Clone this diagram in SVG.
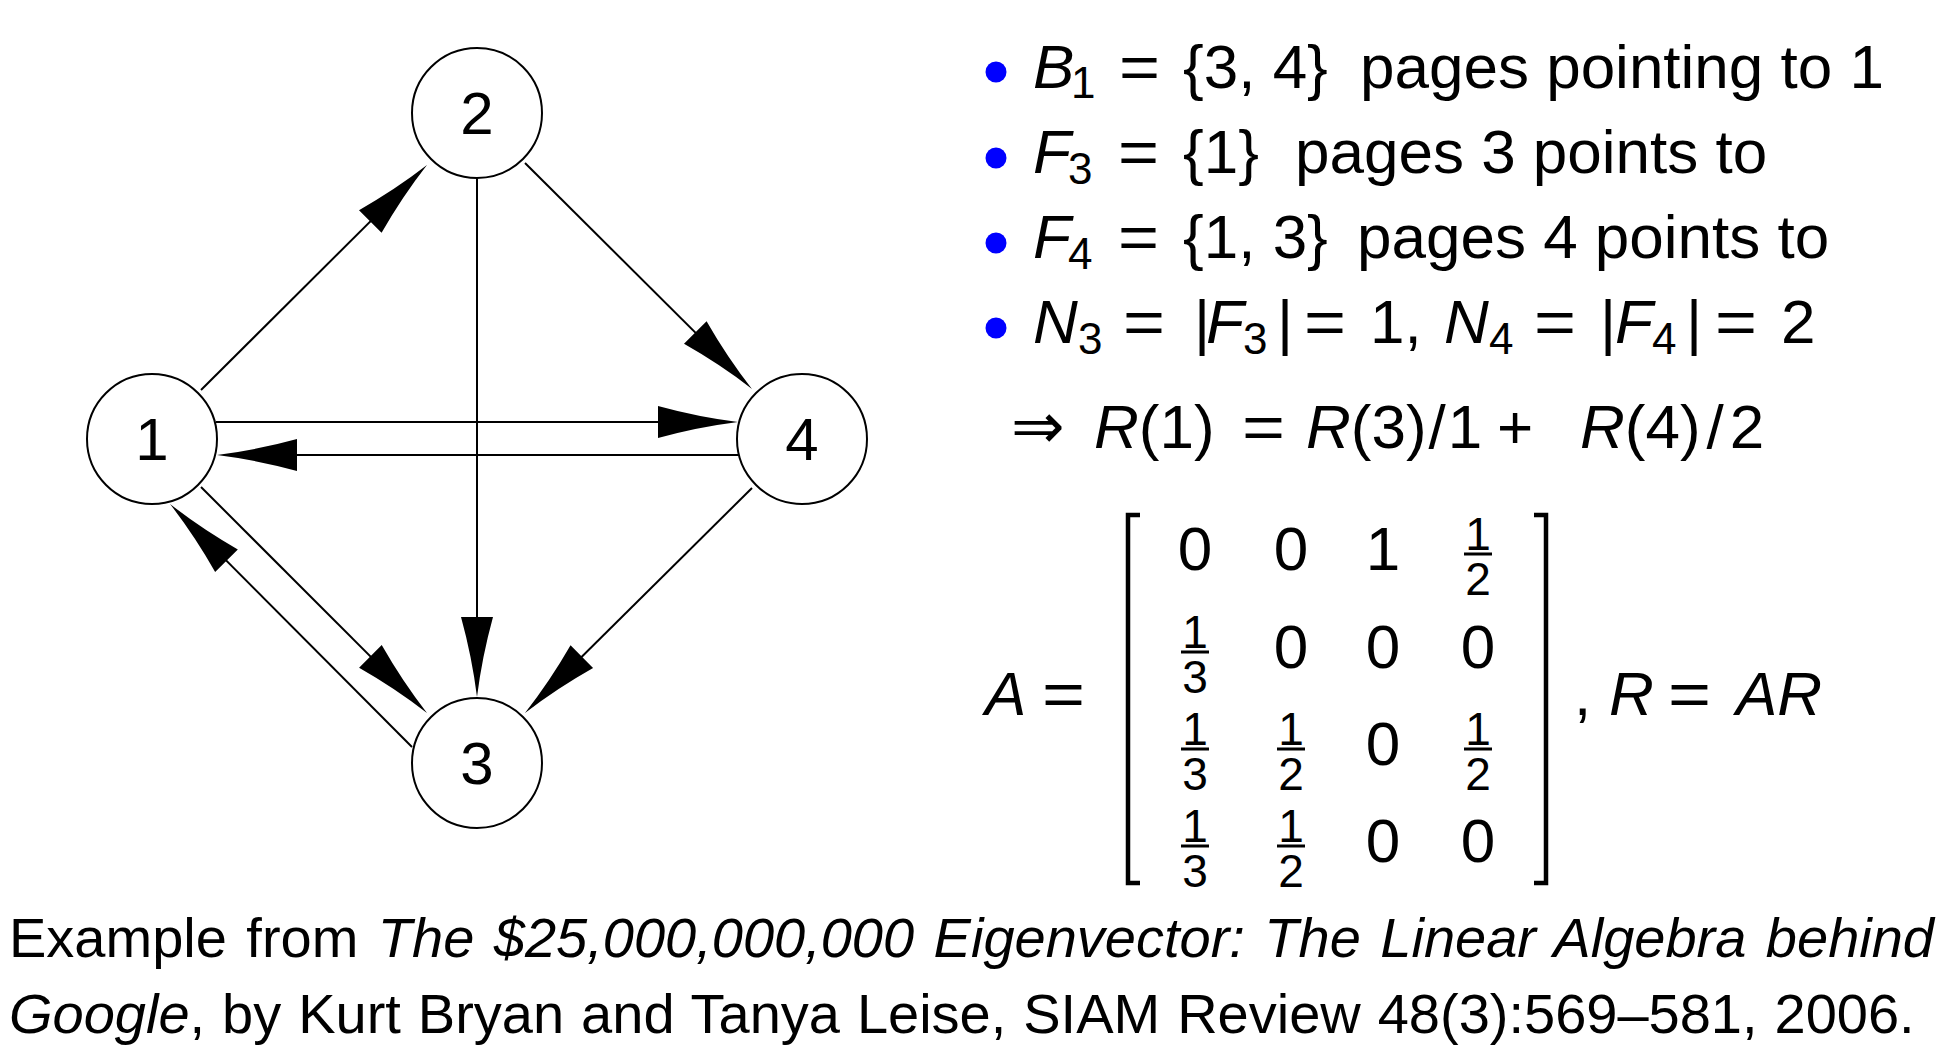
<svg xmlns="http://www.w3.org/2000/svg" width="1956" height="1062" viewBox="0 0 1956 1062">
<defs>
<marker id="ah" markerUnits="userSpaceOnUse" markerWidth="82" markerHeight="34" refX="71" refY="17" orient="auto" overflow="visible">
<path d="M1,1 Q41,12 81,17 Q41,22 1,33 Z" fill="#000"/>
</marker>
</defs>
<style>
.node circle{fill:#fff;stroke:#000;stroke-width:2}
.node text{font-family:"Liberation Sans",Arial,sans-serif;font-size:60px;text-anchor:middle;fill:#000}
.edge{stroke:#000;stroke-width:2;fill:none;marker-end:url(#ah)}
.t{font-family:"Liberation Sans",Arial,sans-serif;font-size:62px;fill:#000}
.i{font-style:italic}
.s{font-size:44px}
.f{font-family:"Liberation Sans",Arial,sans-serif;font-size:46px;text-anchor:middle;fill:#000}
.m{font-family:"Liberation Sans",Arial,sans-serif;font-size:62px;text-anchor:middle;fill:#000}
.eq{font-family:"Liberation Sans",Arial,sans-serif;font-size:62px;fill:#000}
.bar{stroke:#000;stroke-width:3}
.brk{stroke:#000;stroke-width:4.5;fill:none}
.bul{fill:#0000ff}
.cap{font-family:"Liberation Sans",Arial,sans-serif;font-size:56px;fill:#000}
</style>
<rect width="1956" height="1062" fill="#fff"/>
<g id="connectors">
<path class="edge" d="M201,390 L419.9,172.1"/>
<path class="edge" d="M525,163 L744.9,381.9"/>
<path class="edge" d="M477,179 L477,687"/>
<path class="edge" d="M752,488 L532.1,706"/>
<path class="edge" d="M201,487 L419.9,705.9"/>
<path class="edge" d="M412,747 L177.1,511.1"/>
<path class="edge" d="M216,422 L728,422"/>
<path class="edge" d="M739,455 L227,455"/>
</g>
<g id="node1" class="node"><circle cx="152" cy="439" r="65"/><text x="152" y="460">1</text></g>
<g id="node2" class="node"><circle cx="477" cy="113" r="65"/><text x="477" y="134">2</text></g>
<g id="node3" class="node"><circle cx="477" cy="763" r="65"/><text x="477" y="784">3</text></g>
<g id="node4" class="node"><circle cx="802" cy="439" r="65"/><text x="802" y="460">4</text></g>
<g id="bullets">
<circle class="bul" cx="996" cy="72" r="10.5"/>
<circle class="bul" cx="996" cy="158" r="10.5"/>
<circle class="bul" cx="996" cy="243" r="10.5"/>
<circle class="bul" cx="996" cy="328" r="10.5"/>
</g>
<g id="text-lines">
<text class="t"><tspan x="1033" y="88" class="i">B</tspan><tspan x="1071" y="98" class="s">1</tspan><tspan x="1183" y="88">{3, 4}</tspan><tspan x="1360" y="88">pages pointing to 1</tspan></text>
<text class="eq" x="1119" y="88" textLength="41" lengthAdjust="spacingAndGlyphs">=</text>
<text class="t"><tspan x="1033" y="173" class="i">F</tspan><tspan x="1068" y="184" class="s">3</tspan><tspan x="1183" y="173">{1}</tspan><tspan x="1295" y="173">pages 3 points to</tspan></text>
<text class="eq" x="1118" y="173" textLength="41" lengthAdjust="spacingAndGlyphs">=</text>
<text class="t"><tspan x="1033" y="258" class="i">F</tspan><tspan x="1068" y="269" class="s">4</tspan><tspan x="1183" y="258">{1, 3}</tspan><tspan x="1357" y="258">pages 4 points to</tspan></text>
<text class="eq" x="1118" y="258" textLength="41" lengthAdjust="spacingAndGlyphs">=</text>
<text class="t"><tspan x="1033" y="343" class="i">N</tspan><tspan x="1078" y="354" class="s">3</tspan><tspan x="1194" y="343">|</tspan><tspan x="1206" y="343" class="i">F</tspan><tspan x="1243" y="354" class="s">3</tspan><tspan x="1277" y="343">|</tspan><tspan x="1370" y="343">1,</tspan><tspan x="1444" y="343" class="i">N</tspan><tspan x="1489" y="354" class="s">4</tspan><tspan x="1600" y="343">|</tspan><tspan x="1615" y="343" class="i">F</tspan><tspan x="1652" y="354" class="s">4</tspan><tspan x="1686" y="343">|</tspan><tspan x="1781" y="343">2</tspan></text>
<text class="eq" x="1123" y="343" textLength="42" lengthAdjust="spacingAndGlyphs">=</text>
<text class="eq" x="1304" y="343" textLength="42" lengthAdjust="spacingAndGlyphs">=</text>
<text class="eq" x="1534" y="343" textLength="42" lengthAdjust="spacingAndGlyphs">=</text>
<text class="eq" x="1715" y="343" textLength="42" lengthAdjust="spacingAndGlyphs">=</text>
<text class="t"><tspan x="1011" y="448" style="font-family:'DejaVu Sans',sans-serif;font-size:64px">⇒</tspan><tspan x="1094" y="448" class="i">R</tspan><tspan y="448">(1)</tspan><tspan x="1306" y="448" class="i">R</tspan><tspan y="448">(3)</tspan><tspan dx="2" y="448">/</tspan><tspan dx="2" y="448">1</tspan><tspan x="1497" y="448">+</tspan><tspan x="1580" y="448" class="i">R</tspan><tspan y="448">(4)</tspan><tspan dx="6" y="448">/</tspan><tspan dx="6" y="448">2</tspan></text>
<text class="eq" x="1242" y="448" textLength="43" lengthAdjust="spacingAndGlyphs">=</text>
</g>
<g id="matrix-equation">
<text class="t"><tspan x="985" y="715" class="i">A</tspan></text>
<text class="eq" x="1042" y="715" textLength="43" lengthAdjust="spacingAndGlyphs">=</text>
<path class="brk" d="M1140,515 H1128 V883 H1140"/>
<path class="brk" d="M1534,515 H1546 V883 H1534"/>
<text class="m" x="1195" y="570">0</text>
<text class="m" x="1291" y="570">0</text>
<text class="m" x="1383" y="570">1</text>
<text class="f" x="1478" y="550">1</text><line class="bar" x1="1464" y1="554" x2="1492" y2="554"/><text class="f" x="1478" y="595">2</text>
<text class="f" x="1195" y="648">1</text><line class="bar" x1="1181" y1="652" x2="1209" y2="652"/><text class="f" x="1195" y="693">3</text>
<text class="m" x="1291" y="668">0</text>
<text class="m" x="1383" y="668">0</text>
<text class="m" x="1478" y="668">0</text>
<text class="f" x="1195" y="745">1</text><line class="bar" x1="1181" y1="749" x2="1209" y2="749"/><text class="f" x="1195" y="790">3</text>
<text class="f" x="1291" y="745">1</text><line class="bar" x1="1277" y1="749" x2="1305" y2="749"/><text class="f" x="1291" y="790">2</text>
<text class="m" x="1383" y="765">0</text>
<text class="f" x="1478" y="745">1</text><line class="bar" x1="1464" y1="749" x2="1492" y2="749"/><text class="f" x="1478" y="790">2</text>
<text class="f" x="1195" y="842">1</text><line class="bar" x1="1181" y1="846" x2="1209" y2="846"/><text class="f" x="1195" y="887">3</text>
<text class="f" x="1291" y="842">1</text><line class="bar" x1="1277" y1="846" x2="1305" y2="846"/><text class="f" x="1291" y="887">2</text>
<text class="m" x="1383" y="862">0</text>
<text class="m" x="1478" y="862">0</text>
<text class="t"><tspan x="1574" y="715">,</tspan><tspan x="1609" y="715" class="i">R</tspan><tspan x="1736" y="715" class="i">AR</tspan></text>
<text class="eq" x="1668" y="715" textLength="43" lengthAdjust="spacingAndGlyphs">=</text>
</g>
<g id="caption">
<text class="cap" x="9" y="957" style="word-spacing:3.9px">Example from <tspan font-style="italic">The $25,000,000,000 Eigenvector: The Linear Algebra behind</tspan></text>
<text class="cap" x="9" y="1033" style="word-spacing:1.4px"><tspan font-style="italic">Google</tspan>, by Kurt Bryan and Tanya Leise, SIAM Review 48(3):569–581, 2006.</text>
</g>
</svg>
